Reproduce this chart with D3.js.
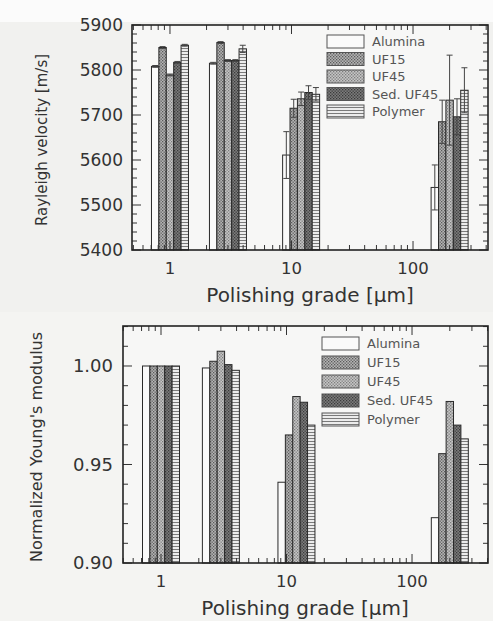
<!DOCTYPE html>
<html>
<head>
<meta charset="utf-8">
<script src="https://cdn.jsdelivr.net/npm/d3@7"></script>
<style>
  body { margin: 0; background: #f1f1ef; }
  svg { display: block; font-family: "DejaVu Sans", Verdana, sans-serif; }
</style>
</head>
<body>
<div id="chart"></div>
<script>
// data
const grades = [1, 3, 12, 200];
const seriesNames = ["Alumina", "UF15", "UF45", "Sed. UF45", "Polymer"];

// Rayleigh velocity [m/s], one array per series (by grade)
const velAlumina = [5808, 5815, 5611, 5539];
const velUF15 = [5850, 5861, 5715, 5685];
const velUF45 = [5789, 5821, 5736, 5733];
const velSed = [5817, 5821, 5750, 5696];
const velPolymer = [5855, 5847, 5746, 5755];

// error bars on the velocity
const errAlumina = [2, 2, 52, 50];
const errUF15 = [2, 2, 20, 48];
const errUF45 = [2, 2, 15, 100];
const errSed = [2, 2, 15, 40];
const errPolymer = [2, 8, 15, 50];

// normalized Young's modulus
const modAlumina = [1.000, 0.999, 0.941, 0.923];
const modUF15 = [1.000, 1.0024, 0.965, 0.9555];
const modUF45 = [1.000, 1.0075, 0.9845, 0.982];
const modSed = [1.000, 1.0007, 0.9816, 0.970];
const modPolymer = [1.000, 0.9978, 0.970, 0.963];

const velTicks = [5400, 5500, 5600, 5700, 5800, 5900];
const modTicks = [0.90, 0.95, 1.00];
const gradeTicks = [1, 10, 100];

const velData = [velAlumina, velUF15, velUF45, velSed, velPolymer];
const velErr = [errAlumina, errUF15, errUF45, errSed, errPolymer];
const modData = [modAlumina, modUF15, modUF45, modSed, modPolymer];

const width = 493, height = 621;
const svg = d3.select("#chart").append("svg")
    .attr("width", width)
    .attr("height", height);

svg.append("rect").attr("width", width).attr("height", height).attr("fill", "#f1f1ef");
svg.append("rect").attr("width", width).attr("height", 22).attr("fill", "#fbfbfb");
svg.append("rect").attr("y", 312).attr("width", width).attr("height", height - 312).attr("fill", "#f4f4f2");

// fill patterns for the five series
const defs = svg.append("defs");
const makePattern = (id, base, dot, lines) => {
    const p = defs.append("pattern")
        .attr("id", id)
        .attr("patternUnits", "userSpaceOnUse")
        .attr("width", 3)
        .attr("height", 3);
    p.append("rect").attr("width", 3).attr("height", 3).attr("fill", base);
    if (dot) {
        p.append("rect").attr("x", 0).attr("y", 0).attr("width", 1.3).attr("height", 1.3).attr("fill", dot);
        p.append("rect").attr("x", 1.5).attr("y", 1.5).attr("width", 1.3).attr("height", 1.3).attr("fill", dot);
    }
    if (lines) {
        p.append("rect").attr("x", 0).attr("y", 0).attr("width", 3).attr("height", 1).attr("fill", lines);
    }
};
makePattern("p0", "#fafafa", null, null);
makePattern("p1", "#b4b4b4", "#5a5a5a", null);
makePattern("p2", "#c6c6c6", "#7c7c7c", null);
makePattern("p3", "#7c7c7c", "#3a3a3a", null);
makePattern("p4", "#ececec", null, "#7a7a7a");
const fills = ["url(#p0)", "url(#p1)", "url(#p2)", "url(#p3)", "url(#p4)"];

const barW = 7.4;

const drawPanel = (opt) => {
    const { left, right, top, bottom } = opt;
    const g = svg.append("g");

    const x = d3.scaleLog().domain(opt.xDomain).range([left, right]);
    const y = d3.scaleLinear().domain(opt.yDomain).range([bottom, top]);

    g.append("rect")
        .attr("x", left).attr("y", top)
        .attr("width", right - left).attr("height", bottom - top)
        .attr("fill", "#f7f7f6");

    // bars
    opt.data.forEach((vals, si) => {
        g.selectAll(null)
            .data(vals.map((v, gi) => ({ v, grade: grades[gi], gi })))
            .join("rect")
            .attr("x", d => x(d.grade) + (si - 2.5) * barW)
            .attr("y", d => y(d.v))
            .attr("width", barW)
            .attr("height", d => y(opt.yDomain[0]) - y(d.v))
            .attr("fill", fills[si])
            .attr("stroke", "#2a2a2a")
            .attr("stroke-width", 1);

        if (opt.err) {
            const errs = opt.err[si];
            const eg = g.selectAll(null)
                .data(vals.map((v, gi) => ({ v, e: errs[gi], grade: grades[gi] })))
                .join("g")
                .attr("stroke", "#444")
                .attr("stroke-width", 1);
            const cx = d => x(d.grade) + (si - 2) * barW;
            eg.append("line")
                .attr("x1", cx).attr("x2", cx)
                .attr("y1", d => y(d.v - d.e)).attr("y2", d => y(d.v + d.e));
            eg.append("line")
                .attr("x1", d => cx(d) - 3).attr("x2", d => cx(d) + 3)
                .attr("y1", d => y(d.v + d.e)).attr("y2", d => y(d.v + d.e));
            eg.append("line")
                .attr("x1", d => cx(d) - 3).attr("x2", d => cx(d) + 3)
                .attr("y1", d => y(d.v - d.e)).attr("y2", d => y(d.v - d.e));
        }
    });

    // minor + major ticks, drawn inward on all four sides
    const xMinor = [];
    for (let dec = 0.1; dec < 1000; dec *= 10) {
        for (let k = 1; k < 10; k++) {
            const v = +(dec * k).toPrecision(3);
            if (v >= opt.xDomain[0] && v <= opt.xDomain[1]) xMinor.push(v);
        }
    }
    const tickG = g.append("g").attr("stroke", "#333").attr("stroke-width", 1);
    xMinor.forEach(v => {
        const major = gradeTicks.includes(v);
        const len = major ? 9 : 5;
        tickG.append("line").attr("x1", x(v)).attr("x2", x(v)).attr("y1", bottom).attr("y2", bottom - len);
        tickG.append("line").attr("x1", x(v)).attr("x2", x(v)).attr("y1", top).attr("y2", top + len);
    });
    const yMinor = d3.range(opt.yDomain[0], opt.yDomain[1] + opt.minorStep / 2, opt.minorStep);
    yMinor.forEach(v => {
        const major = opt.yTicks.some(t => Math.abs(t - v) < opt.minorStep / 10);
        const len = major ? 9 : 5;
        tickG.append("line").attr("x1", left).attr("x2", left + len).attr("y1", y(v)).attr("y2", y(v));
        tickG.append("line").attr("x1", right).attr("x2", right - len).attr("y1", y(v)).attr("y2", y(v));
    });

    // frame
    g.append("rect")
        .attr("x", left).attr("y", top)
        .attr("width", right - left).attr("height", bottom - top)
        .attr("fill", "none")
        .attr("stroke", "#222")
        .attr("stroke-width", 1.6);

    // tick labels
    g.selectAll(null)
        .data(opt.yTicks)
        .join("text")
        .attr("x", left - opt.yLabelGap)
        .attr("y", d => y(d))
        .attr("dy", "0.36em")
        .attr("text-anchor", "end")
        .attr("font-size", opt.yFont)
        .attr("fill", "#333")
        .text(opt.yFormat);

    g.selectAll(null)
        .data(gradeTicks)
        .join("text")
        .attr("x", d => x(d))
        .attr("y", bottom + 24)
        .attr("text-anchor", "middle")
        .attr("font-size", 16.5)
        .attr("fill", "#333")
        .text(d => d);

    // axis titles
    g.append("text")
        .attr("x", opt.xTitleX)
        .attr("y", opt.xTitleY)
        .attr("text-anchor", "middle")
        .attr("font-size", 20)
        .attr("fill", "#333")
        .text("Polishing grade [µm]");

    g.append("text")
        .attr("transform", `translate(${opt.yTitleX}, ${opt.yTitleY}) rotate(-90)`)
        .attr("text-anchor", "middle")
        .attr("font-size", opt.yTitleFont)
        .attr("fill", "#333")
        .text(opt.yTitle);

    // legend
    const lg = g.append("g").attr("transform", `translate(${opt.legendX}, ${opt.legendY})`);
    seriesNames.forEach((name, i) => {
        lg.append("rect")
            .attr("x", 0).attr("y", i * opt.legendStep)
            .attr("width", 37).attr("height", 13)
            .attr("fill", fills[i])
            .attr("stroke", "#555")
            .attr("stroke-width", 1);
        lg.append("text")
            .attr("x", 45).attr("y", i * opt.legendStep + 6.5)
            .attr("dy", "0.36em")
            .attr("font-size", 13)
            .attr("fill", "#555")
            .text(name);
    });
};

drawPanel({
    left: 132, right: 488, top: 25, bottom: 250,
    xDomain: [0.487, 414],
    yDomain: [5400, 5900],
    yTicks: velTicks,
    minorStep: 20,
    yFormat: d => d,
    yFont: 17,
    yLabelGap: 9,
    data: velData,
    err: velErr,
    xTitleX: 310, xTitleY: 302,
    yTitleX: 47, yTitleY: 140,
    yTitle: "Rayleigh velocity [m/s]",
    yTitleFont: 15,
    legendX: 327, legendY: 35, legendStep: 17.5
});

drawPanel({
    left: 123, right: 488, top: 326, bottom: 563,
    xDomain: [0.498, 403],
    yDomain: [0.90, 1.0203],
    yTicks: modTicks,
    minorStep: 0.01,
    yFormat: d3.format(".2f"),
    yFont: 18,
    yLabelGap: 10,
    data: modData,
    err: null,
    xTitleX: 305, xTitleY: 615,
    yTitleX: 42, yTitleY: 447,
    yTitle: "Normalized Young's modulus",
    yTitleFont: 16,
    legendX: 322, legendY: 337, legendStep: 19
});
</script>
</body>
</html>
